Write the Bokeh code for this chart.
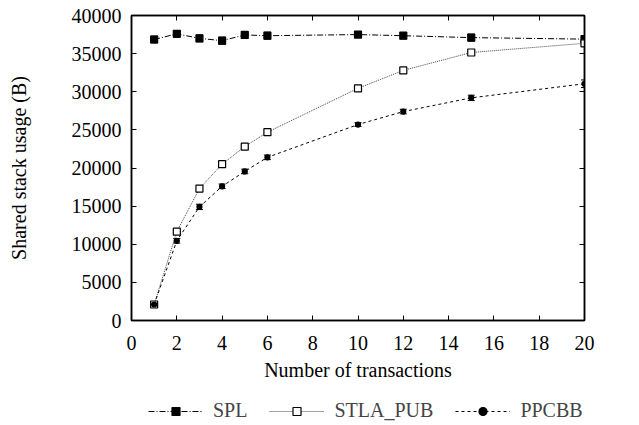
from bokeh.plotting import figure
from bokeh.layouts import column
from bokeh.models import (ColumnDataSource, Range1d, LinearAxis, FixedTicker, Whisker,
                          Legend, LegendItem, CustomJSTickFormatter)
from bokeh.embed import file_html
from bokeh.resources import INLINE

FONT = "Liberation Serif"

x_vals = [1, 2, 3, 4, 5, 6, 10, 12, 15, 20]
spl = [36850, 37600, 37000, 36700, 37450, 37350, 37500, 37350, 37100, 36900]
spl_err = [450, 350, 450, 450, 400, 450, 350, 400, 450, 450]
stla_pub = [2100, 11650, 17300, 20500, 22800, 24700, 30450, 32800, 35150, 36350]
stla_err = [150, 300, 300, 350, 300, 300, 300, 300, 350, 400]
ppcbb = [2100, 10450, 14900, 17600, 19550, 21400, 25700, 27400, 29200, 31050]
ppcbb_err = [150, 300, 350, 300, 300, 300, 250, 300, 350, 500]

x_ticks = [0, 2, 4, 6, 8, 10, 12, 14, 16, 18, 20]
y_ticks = [0, 5000, 10000, 15000, 20000, 25000, 30000, 35000, 40000]

p = figure(frame_width=453, frame_height=305, output_backend="svg", toolbar_location=None,
           x_range=Range1d(0, 20), y_range=Range1d(0, 40000),
           min_border_left=131, min_border_right=47, min_border_top=15, min_border_bottom=75)
p.grid.visible = False
p.outline_line_color = "black"
p.outline_line_width = 1.5
p.background_fill_color = "white"
p.border_fill_color = "white"

for ax in (p.xaxis[0], p.yaxis[0]):
    ax.major_tick_in = 5
    ax.major_tick_out = 0
    ax.minor_tick_line_color = None
    ax.axis_line_width = 1.5
    ax.major_tick_line_width = 1
    ax.major_label_text_font = FONT
    ax.major_label_text_font_size = "20px"
    ax.axis_label_text_font = FONT
    ax.axis_label_text_font_size = "20px"
    ax.axis_label_text_font_style = "normal"
    ax.major_label_text_color = "black"
    ax.axis_label_text_color = "black"

p.xaxis[0].ticker = FixedTicker(ticks=x_ticks)
p.yaxis[0].ticker = FixedTicker(ticks=y_ticks)
p.xaxis[0].axis_label = "Number of transactions"
p.yaxis[0].axis_label = "Shared stack usage (B)"
p.xaxis[0].major_label_standoff = 15
p.yaxis[0].major_label_standoff = 10
p.xaxis[0].axis_label_standoff = 6
p.yaxis[0].axis_label_standoff = 39

empty = CustomJSTickFormatter(code="return ''")
top = LinearAxis(ticker=FixedTicker(ticks=x_ticks), formatter=empty, major_tick_in=5,
                 major_tick_out=0, minor_tick_line_color=None, major_label_standoff=0,
                 major_label_text_font_size="0px", axis_line_width=1.5)
right = LinearAxis(ticker=FixedTicker(ticks=y_ticks), formatter=empty, major_tick_in=5,
                   major_tick_out=0, minor_tick_line_color=None, major_label_standoff=0,
                   major_label_text_font_size="0px", axis_line_width=1.5)
p.add_layout(top, "above")
p.add_layout(right, "right")

# legend strip: a borderless figure whose view lies outside the data, holding only the legend
lf = figure(width=631, height=30, output_backend="svg", toolbar_location=None,
            x_range=Range1d(100, 101), y_range=Range1d(-10, -9),
            x_axis_location=None, y_axis_location=None,
            min_border_left=0, min_border_right=0, min_border_top=0, min_border_bottom=0)
lf.grid.visible = False
lf.outline_line_color = None

series = [
    ("SPL", spl, spl_err, "black", "6 2 1 2", "square", "black", 7),
    ("STLA_PUB", stla_pub, stla_err, "#444444", "1 1", "square", "white", 7),
    ("PPCBB", ppcbb, ppcbb_err, "black", "3 3", "circle", "black", 5),
]
items = []
for name, ys, err, col, dash, marker, fill, size in series:
    src = ColumnDataSource(dict(x=x_vals, y=ys,
                                lo=[a - b for a, b in zip(ys, err)],
                                hi=[a + b for a, b in zip(ys, err)]))
    w = Whisker(source=src, base="x", upper="hi", lower="lo", line_color=col, line_width=1)
    w.upper_head.size = 7
    w.lower_head.size = 7
    w.upper_head.line_color = col
    w.lower_head.line_color = col
    p.add_layout(w)
    p.line("x", "y", source=src, line_color=col, line_dash=dash, line_width=1)
    p.scatter("x", "y", source=src, marker=marker, size=size, line_color="black",
              fill_color=fill, line_width=1.2)
    lr = lf.line("x", "y", source=src, line_color=col, line_dash=dash, line_width=1)
    sr = lf.scatter("x", "y", source=src, marker=marker, size=size, line_color="black",
                    fill_color=fill, line_width=1.2)
    items.append(LegendItem(label=name, renderers=[lr, sr]))

legend = Legend(items=items, orientation="horizontal", location=(17, 3),
                label_text_font=FONT, label_text_font_size="20px", glyph_width=55,
                glyph_height=20, label_height=20, label_standoff=10, spacing=22,
                padding=0, margin=0,
                border_line_color=None, background_fill_alpha=0)
lf.add_layout(legend, "center")

layout = column(p, lf, spacing=0)
open("out.html", "w").write(file_html(layout, INLINE))
